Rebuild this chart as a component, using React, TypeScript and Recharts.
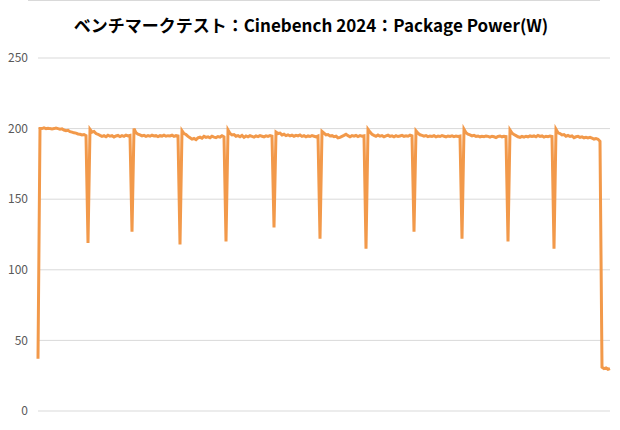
import { LineChart, Line, XAxis, YAxis, CartesianGrid } from "recharts";

const title = "ベンチマークテスト：Cinebench 2024：Package Power(W)";
const yTicks = [0, 50, 100, 150, 200, 250];

// Package power between the short dips (W), one sample per step
const plateaus: number[][] = [
  [37, 200, 200, 200.5, 200, 200.3, 200, 199.8, 200, 200.4, 200, 199.6, 199.8, 199, 198.5, 198.8, 197.8, 197.5, 197, 196.8, 196.2, 196, 195.5, 195.8, 195],
  [199.5, 197.5, 198, 196.5, 196, 195.2, 194.5, 195, 194.2, 195.3, 194.6, 195, 194, 194.8, 195.2, 194.3, 195, 194.5, 195.4, 194.8, 195.2],
  [200, 197, 196, 195.5, 194.8, 195.2, 194.5, 195, 194.6, 195.3, 194.8, 195, 194.4, 195, 194.7, 195.4, 194.6, 195, 194.8, 195.3, 194.5, 195, 194.8],
  [198.5, 196.5, 195.8, 194.5, 193.5, 192.5, 193, 192.2, 193.5, 194, 193.2, 194.5, 193.8, 194.2, 193.5, 194.6, 194, 193.6, 194.4, 194, 195, 194.2],
  [199, 196.5, 195.5, 195.8, 194.6, 195, 194.2, 195.2, 193.8, 194.8, 194.2, 195, 194.5, 194, 194.8, 194.3, 195, 194.6, 194.2, 194.9, 194.5, 195, 194.6],
  [197.5, 196.5, 196.8, 195.5, 196, 195, 195.6, 194.8, 195.4, 194.6, 195.2, 194.8, 195.5, 194.5, 195, 194.2, 194.8, 194.4, 195, 194.6, 194.2, 194.8],
  [198, 196.8, 195.5, 195.8, 194.8, 195, 194.3, 194.6, 193.5, 193.8, 194.5, 195.2, 196, 195, 194.2, 195, 194.6, 195.2, 194.4, 195, 194.6, 194.9],
  [199.5, 197.5, 196, 195.2, 194.5, 195.4, 194.6, 195, 194.2, 194.8, 195.3, 194.5, 194.9, 194.2, 195, 194.4, 194.8, 195.2, 194.5, 194.9, 194.6, 195.3, 194.8],
  [198.5, 196.8, 195.6, 195.2, 194.6, 195, 194.3, 194.8, 194.5, 195, 194.2, 194.7, 194.4, 195, 194.6, 194.2, 194.8, 194.5, 194.9, 194.3, 194.8, 194.5, 194.7],
  [199.5, 197, 196, 195.5, 194.8, 195.2, 194.5, 194.8, 194.2, 194.6, 194.3, 194.8, 194.5, 194, 194.6, 194.2, 193.6, 194.5, 194.8, 194.2, 194.6, 194.4],
  [199, 196.8, 195.8, 195, 194.2, 193.8, 194.5, 194, 194.6, 194.2, 194.8, 194.4, 194.8, 194.2, 195.2, 194.5, 194.8, 194, 194.6, 194.3, 194.8, 194.5],
  [199.5, 197, 196.5, 195.5, 195.8, 194.6, 195.2, 194.4, 194.8, 193.6, 194.2, 194.5, 193.8, 194.2, 193.5, 193.9, 193.4, 193.8, 193.2, 192.6, 193, 192.5, 191],
];

// lowest value of each dip between plateaus
const dipLows = [119, 127, 118, 120, 130, 122, 115, 127, 122, 120, 115];

// idle after the run
const tail = [31, 30, 30.5, 29.5, 30];

const power: number[] = [];
plateaus.forEach((seg, i) => {
  power.push(...seg);
  if (i < dipLows.length) power.push(dipLows[i]);
});
power.push(...tail);

const data = power.map((w, t) => ({ t, w }));

const font = '"Noto Sans CJK JP", "Noto Sans", sans-serif';

export default function App() {
  return (
    <div style={{ position: "absolute", left: 0, top: 0, width: 620, height: 430, background: "#fff", fontFamily: font }}>
      <div style={{ position: "absolute", left: 28, top: 0, width: 572, borderTop: "1px solid #d9d9d9" }} />
      <div
        style={{
          position: "absolute",
          top: 13,
          left: 0,
          width: 622,
          textAlign: "center",
          fontSize: 17,
          fontWeight: 700,
          lineHeight: "24px",
          color: "#000",
        }}
      >
        {title}
      </div>
      <LineChart width={620} height={430} data={data} margin={{ top: 58, right: 10, bottom: 19, left: 0 }}>
        <CartesianGrid vertical={false} stroke="#d9d9d9" />
        <XAxis dataKey="t" type="number" domain={[0, power.length - 1]} hide />
        <YAxis
          width={38}
          domain={[0, 250]}
          ticks={yTicks}
          axisLine={false}
          tickLine={false}
          tickMargin={4}
          tick={{ fontSize: 12, fill: "#595959", fontFamily: font }}
        />
        <Line
          type="linear"
          dataKey="w"
          stroke="#F2994A"
          strokeWidth={3}
          dot={false}
          isAnimationActive={false}
        />
      </LineChart>
    </div>
  );
}
